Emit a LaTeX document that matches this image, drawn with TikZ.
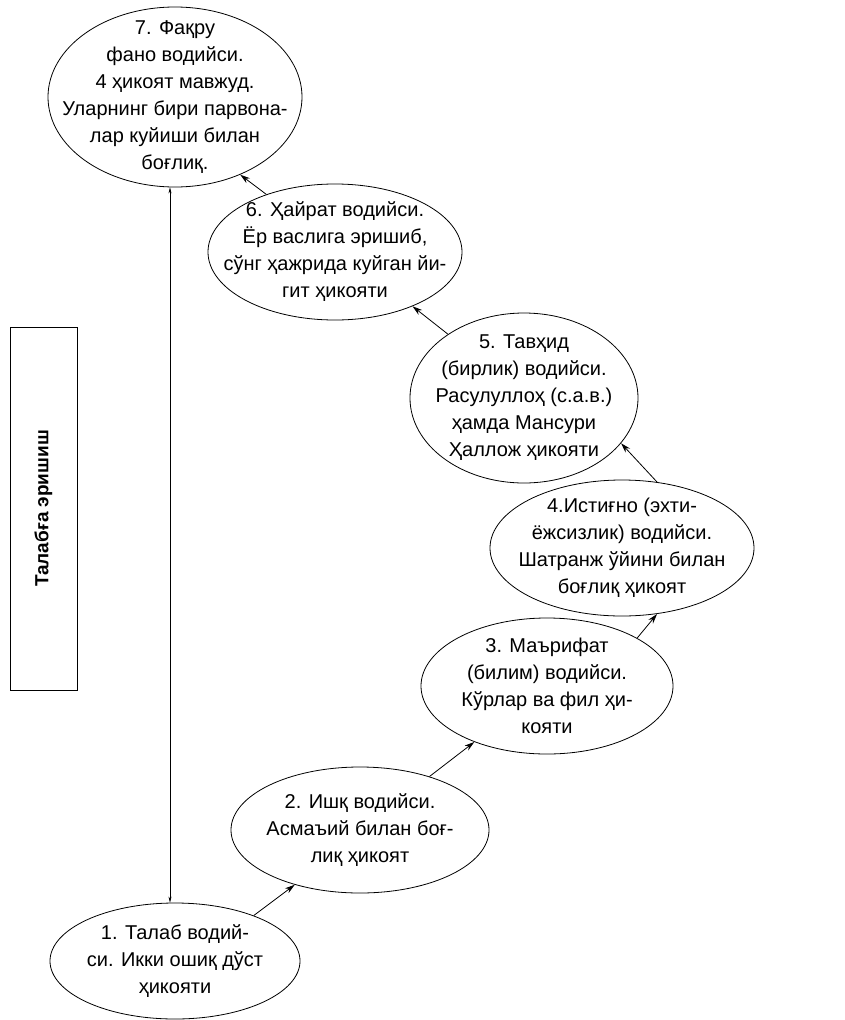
\documentclass[tikz,border=0pt]{standalone}
\usepackage{fontspec}
\setmainfont{Liberation Sans}
\usetikzlibrary{shapes.geometric,arrows.meta}

\begin{document}
\begin{tikzpicture}[x=1pt,y=-1pt,-{Stealth[length=10pt,width=6pt]},line width=0.8pt]
\tikzstyle{valley}=[ellipse,draw,inner sep=0pt]
\tikzstyle{story}=[align=center,inner sep=0pt,font=\fontsize{20}{27}\selectfont]
\tikzstyle{nudge left}=[xshift=-5pt]
\tikzstyle{small tip}=[{Stealth[length=6pt,width=3pt]}-{Stealth[length=6pt,width=3pt]},line width=0.5pt]

\useasboundingbox (0,0) rectangle (845,1020);

% the seven valleys
\node[valley,minimum width=254pt,minimum height=180pt] (v7) at (175,97) {};
\node[story] (t7) at (v7) {7. Фақру\\фано водийси.\\4 ҳикоят мавжуд.\\Уларнинг бири парвона-\\лар куйиши билан\\боғлиқ.};

\node[valley,minimum width=254pt,minimum height=136pt] (v6) at (335,252) {};
\node[story] (t6) at (v6) {6. Ҳайрат водийси.\\Ёр васлига эришиб,\\сўнг ҳажрида куйган йи-\\гит ҳикояти};

\node[valley,minimum width=228pt,minimum height=170pt] (v5) at (524,398) {};
\node[story] (t5) at (v5) {5. Тавҳид\\(бирлик) водийси.\\Расулуллоҳ (с.а.в.)\\ҳамда Мансури\\Ҳаллож ҳикояти};

\node[valley,minimum width=264pt,minimum height=136pt] (v4) at (622,548) {};
\node[story] (t4) at (v4) {4.Истиғно (эхти-\\ёжсизлик) водийси.\\Шатранж ўйини билан\\боғлиқ ҳикоят};

\node[valley,minimum width=252pt,minimum height=136pt] (v3) at (547,686) {};
\node[story] (t3) at (v3) {3. Маърифат\\(билим) водийси.\\Кўрлар ва фил ҳи-\\кояти};

\node[valley,minimum width=258pt,minimum height=126pt] (v2) at (360,830) {};
\node[story] (t2) at (v2) {2. Ишқ водийси.\\Асмаъий билан боғ-\\лиқ ҳикоят};

\node[valley,minimum width=250pt,minimum height=116pt] (v1) at (175,961) {};
\node[story] (t1) at (v1) {1. Талаб водий-\\си. Икки ошиқ дўст\\ҳикояти};

% side box
\node[draw,rotate=90,minimum width=363pt,minimum height=67pt,line width=0.6pt,
      font=\fontsize{19}{24}\selectfont\bfseries] (goal) at (43.5,508.5) {Талабға эришиш};

% steps up
\draw (v1.30) -- (v2.-140);
\draw (v2) -- (v3);
\draw (v3.28) -- (v4.-62);
\draw (v4.62) -- (v5.-25);
\draw (v5.140) -- (v6.-35);
\draw (v6.140) -- (v7.-50);

\draw[small tip] ([nudge left]v1.north) -- ([nudge left]v7.south);

\end{tikzpicture}
\end{document}
